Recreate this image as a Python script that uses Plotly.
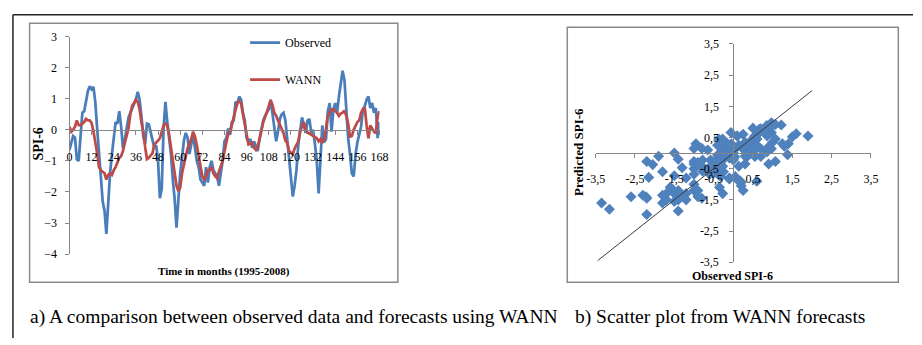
import plotly.graph_objects as go

# ---------------- data ----------------
months = list(range(0, 169))

observed = [
    -0.65, -0.4, -0.2, -0.25, -0.95, -1.0, -0.2, 0.55, 0.6, 1.0,
    1.25, 1.4, 1.3, 1.38, 0.9, 0.05, -0.9, -1.5, -2.3, -2.6,
    -3.35, -2.2, -1.4, -0.8, -0.27, 0.25, 0.2, 0.6, 0.1, -0.6,
    -0.3, 0.0, 0.4, 0.55, 0.7, 0.86, 0.97, 1.22, 0.97, 0.45,
    -0.2, -0.45, 0.2, 0.18, -0.1, -0.32, -0.58, -0.5, -1.0, -2.2,
    -1.9, 0.05, 0.9, 0.25, -0.27, -0.78, -1.6, -2.22, -3.15, -2.2,
    -1.4, -0.9, -0.35, -0.1, -0.25, -0.78, -0.45, -0.16, -0.58, -1.0,
    -1.2, -1.6, -1.7, -1.8, -1.2, -1.7, -1.2, -1.0, -1.3, -1.4,
    -1.5, -1.8, -1.4, -1.0, -0.37, -0.27, 0.04, -0.16, 0.25, 0.3,
    0.9, 0.85, 1.07, 0.97, 0.55, 0.3, -0.27, -0.37, -0.3, -0.58,
    -0.37, -0.5, -0.68, -0.3, 0.0, 0.3, 0.45, 0.55, 0.66, 0.97,
    0.5, 0.1, -0.37, -0.05, 0.35, 0.5, 0.55, 0.3, -0.3, -1.0,
    -1.5, -2.15, -1.8, -1.3, -0.47, -0.05, 0.4, 0.14, -0.1, 0.3,
    0.35, -0.1, 0.0, -0.45, -1.0, -2.05, -0.9, 0.14, -0.4, -0.3,
    0.6, 0.86, -0.06, 0.66, 0.86, 0.55, 1.07, 1.5, 1.9, 1.6,
    0.6, -0.27, -0.78, -1.4, -1.5, -0.8, -0.4, -0.15, 0.1, 0.66,
    0.76, 0.97, 1.07, 0.7, 0.86, 0.55, 0.7, -0.27, 0.25,
]

wann = [
    0.1, -0.06, 0.0, 0.1, 0.3, 0.15, 0.15, 0.2, 0.25, 0.35,
    0.3, 0.3, 0.22, -0.05, -0.35, -0.75, -1.2, -1.3, -1.35, -1.4,
    -1.6, -1.45, -1.4, -1.45, -1.3, -1.2, -1.05, -0.9, -0.85, -0.68,
    -0.42, -0.22, 0.05, 0.5, 0.78, 0.86, 0.97, 0.9, 0.66, 0.25,
    -0.06, -0.55, -0.94, -0.9, -0.83, -0.75, -0.47, -0.42, -0.35, -0.27,
    -0.1, 0.14, 0.2, 0.14, -0.16, -0.58, -1.1, -1.4, -1.8, -1.97,
    -1.86, -1.4, -1.1, -0.8, -0.6, -0.45, -0.3, -0.06, -0.22, -0.5,
    -0.8, -1.1, -1.5, -1.6, -1.5, -1.3, -1.3, -1.2, -1.4, -1.5,
    -1.55, -1.35, -1.2, -1.0, -0.7, -0.42, -0.12, -0.08, 0.14, 0.35,
    0.66, 0.88, 0.92, 0.85, 0.5, 0.14, -0.2, -0.47, -0.45, -0.42,
    -0.58, -0.65, -0.55, -0.27, 0.0, 0.25, 0.4, 0.55, 0.76, 0.95,
    0.8, 0.55, 0.45, 0.3, 0.14, 0.05, -0.11, -0.35, -0.42, -0.68,
    -0.73, -0.78, -0.6, -0.47, -0.37, -0.05, 0.14, 0.25, 0.04, -0.1,
    -0.12, -0.16, -0.2, -0.22, -0.27, -0.37, -0.3, -0.42, -0.3, 0.04,
    0.45, 0.55, 0.66, 0.66, 0.6, 0.55, 0.45, 0.52, 0.55, 0.62,
    0.45, 0.2, -0.22, -0.2, 0.0, 0.15, 0.25, 0.3, 0.55, 0.66,
    0.71, 0.14, -0.27, 0.14, 0.04, -0.06, -0.11, 0.45, 0.6,
]

# scatter (observed vs. predicted WANN)
scatter_observed = observed
scatter_predicted = wann
line_ends = [-3.45, 2.0]

left_xticks = list(range(0, 169, 12))
left_yticks = [-4, -3, -2, -1, 0, 1, 2, 3]
right_ticks = [-3.5, -2.5, -1.5, -0.5, 0.5, 1.5, 2.5, 3.5]
right_ticktext = ["-3,5", "-2,5", "-1,5", "-0,5", "0,5", "1,5", "2,5", "3,5"]

caption_a = "a) A comparison between observed data and forecasts using WANN"
caption_b = "b) Scatter plot from WANN forecasts"

# ---------------- layout helpers ----------------
W, H = 922, 345
def PX(p):
    return p / W
def PY(p):
    return 1 - p / H

SERIF = "Liberation Serif, Times New Roman, serif"
AX = "#868686"
tickfont = dict(family=SERIF, size=12, color="black")

fig = go.Figure()
fig.add_trace(go.Scatter(x=months, y=observed, mode="lines", name="Observed",
                         line=dict(color="#4A7EBB", width=2.75),
                         legendgroup="g1", xaxis="x", yaxis="y"))
fig.add_trace(go.Scatter(x=months, y=wann, mode="lines", name="WANN",
                         line=dict(color="#BE4B48", width=2.75),
                         legendgroup="g2", xaxis="x", yaxis="y"))
fig.add_trace(go.Scatter(x=scatter_observed, y=scatter_predicted, mode="markers",
                         marker=dict(symbol="diamond", size=8.5, color="#4F81BD",
                                     line=dict(width=0)),
                         showlegend=False, xaxis="x2", yaxis="y2"))
fig.add_trace(go.Scatter(x=line_ends, y=line_ends, mode="lines",
                         line=dict(color="#3a3a3a", width=1),
                         showlegend=False, xaxis="x2", yaxis="y2"))

fig.update_layout(
    width=W, height=H,
    margin=dict(l=0, r=0, t=0, b=0),
    paper_bgcolor="white", plot_bgcolor="rgba(0,0,0,0)",
    font=dict(family=SERIF, color="black"),
    xaxis=dict(domain=[PX(60.7), PX(377.3)], range=[0, 168], anchor="free",
               position=PY(128), showline=True, linecolor=AX, linewidth=1,
               ticks="outside", ticklen=4, tickcolor=AX, tickvals=left_xticks,
               showgrid=False, zeroline=False, tickfont=tickfont,
               ticklabelstandoff=12),
    yaxis=dict(domain=[PY(257.6), PY(30.8)], range=[-4, 3], anchor="free",
               position=PX(60.7), showline=True, linecolor=AX, linewidth=1,
               ticks="outside", ticklen=4, tickcolor=AX, tickvals=left_yticks,
               showgrid=False, zeroline=False, tickfont=tickfont,
               ticklabelstandoff=6),
    xaxis2=dict(domain=[PX(598), PX(879)], range=[-3.5, 3.5], anchor="free",
                position=PY(152.3), showline=True, linecolor=AX, linewidth=1,
                ticks="outside", ticklen=4, tickcolor=AX, tickvals=right_ticks,
                ticktext=right_ticktext, showgrid=False, zeroline=False,
                tickfont=tickfont, ticklabelstandoff=10),
    yaxis2=dict(domain=[PY(266), PY(38.5)], range=[-3.5, 3.5], anchor="free",
                position=PX(738.5), showline=True, linecolor=AX, linewidth=1,
                ticks="outside", ticklen=4, tickcolor=AX, tickvals=right_ticks,
                ticktext=right_ticktext, showgrid=False, zeroline=False,
                tickfont=tickfont, ticklabelstandoff=8),
    legend=dict(x=PX(240), y=PY(22), xanchor="left", yanchor="top",
                bgcolor="rgba(0,0,0,0)", tracegroupgap=18,
                font=dict(family=SERIF, size=12, color="black")),
    showlegend=True,
)

shapes = [
    # outer page border
    dict(type="line", xref="paper", yref="paper", x0=PX(3), x1=1, y0=PY(8), y1=PY(8),
         line=dict(color="#222", width=1.5)),
    dict(type="line", xref="paper", yref="paper", x0=PX(3), x1=PX(3), y0=PY(8), y1=0,
         line=dict(color="#222", width=1.5)),
    # chart frames
    dict(type="rect", xref="paper", yref="paper", x0=PX(20), x1=PX(396), y0=PY(287), y1=PY(17),
         line=dict(color="#8a8a8a", width=1.5)),
    dict(type="rect", xref="paper", yref="paper", x0=PX(569), x1=PX(907), y0=PY(287), y1=PY(21),
         line=dict(color="#8a8a8a", width=1.5)),
]
fig.update_layout(shapes=shapes)

ann = [
    dict(text="SPI-6", x=PX(29), y=PY(143), textangle=-90,
         font=dict(family=SERIF, size=14, color="black"), bold=True),
    dict(text="Time in months (1995-2008)", x=PX(219), y=PY(276),
         font=dict(family=SERIF, size=11, color="black"), bold=True),
    dict(text="Predicted SPI-6", x=PX(581), y=PY(151), textangle=-90,
         font=dict(family=SERIF, size=13, color="black"), bold=True),
    dict(text="Observed SPI-6", x=PX(738), y=PY(280.5),
         font=dict(family=SERIF, size=12, color="black"), bold=True),
    dict(text=caption_a, x=PX(18), y=PY(323), xanchor="left",
         font=dict(family=SERIF, size=19.5, color="black")),
    dict(text=caption_b, x=PX(575), y=PY(323), xanchor="left",
         font=dict(family=SERIF, size=19.5, color="black")),
]
annotations = []
for a in ann:
    bold = a.pop("bold", False)
    if bold:
        a["text"] = "<b>" + a["text"] + "</b>"
    a.update(xref="paper", yref="paper", showarrow=False)
    a.setdefault("xanchor", "center")
    a.setdefault("yanchor", "middle")
    annotations.append(a)
fig.update_layout(annotations=annotations)

fig.write_html("out.html",
               config={"displayModeBar": False},
               post_script="document.body.style.margin='0';"
                           "document.body.style.overflow='hidden';")
